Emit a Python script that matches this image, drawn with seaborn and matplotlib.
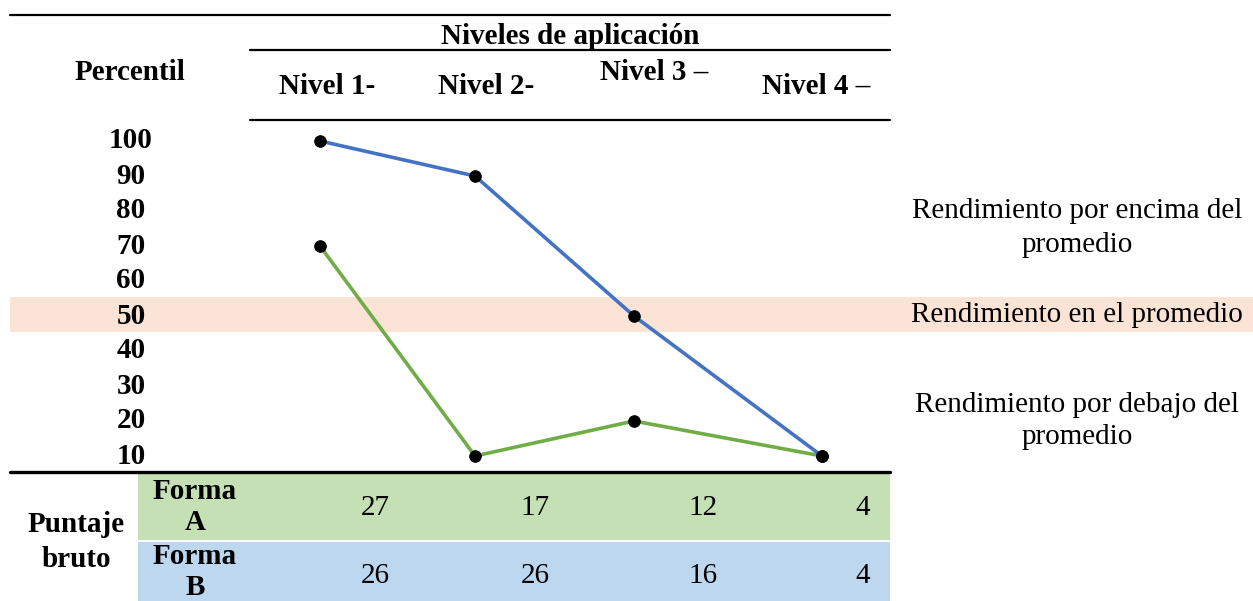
import matplotlib
matplotlib.use("Agg")
import matplotlib.pyplot as plt
import seaborn as sns
import pandas as pd
from matplotlib.lines import Line2D
from matplotlib.patches import Rectangle

# ---------------- data ----------------
levels = ["Nivel 1-", "Nivel 2-", "Nivel 3 –", "Nivel 4 –"]
percentil_ticks = [100, 90, 80, 70, 60, 50, 40, 30, 20, 10]
forma_a_percentil = [70, 10, 20, 10]   # green line
forma_b_percentil = [100, 90, 50, 10]  # blue line
forma_a_bruto = [27, 17, 12, 4]
forma_b_bruto = [26, 26, 16, 4]
band_low, band_high = 45.5, 55.5
zone_labels = ["Rendimiento por encima del\npromedio",
               "Rendimiento en el promedio",
               "Rendimiento por debajo del\npromedio"]

# ---------------- layout (pixels) ----------------
W, H = 1253, 601
col_x = [320, 475, 634, 822]          # column centres of the levels
header_x = [327, 486, 654, 816]
header_y = [87, 87, 72, 87]
num_x = [375, 535, 703, 870]
num_ha = ["center", "center", "center", "right"]
px_per_unit = 3.5
y100_px = 141

sns.set_theme(style="white")
plt.rcParams["font.family"] = ["Liberation Serif", "DejaVu Serif"]
plt.rcParams["text.color"] = "black"

fig = plt.figure(figsize=(W / 100, H / 100), dpi=100)
ax = fig.add_axes([0, 0, 1, 1])
ax.set_xlim(0, W)
ytop = 100 + y100_px / px_per_unit
ybot = 100 - (H - y100_px) / px_per_unit
ax.set_ylim(ybot, ytop)
ax.axis("off")

def fx(x):
    return x / W

def fy(y):
    return 1 - y / H

FS = 21

# orange band (average zone)
ax.axhspan(band_low, band_high, xmin=fx(10), xmax=1, color="#FBE4D5", lw=0, zorder=0)

# table lines
for y, x0, x1, lw in [(15, 10, 890, 1.6), (50, 250, 890, 1.6), (120, 250, 890, 1.6), (472, 10, 890, 2.4)]:
    fig.add_artist(Line2D([fx(x0), fx(x1)], [fy(y), fy(y)], color="black", lw=lw))

# coloured rows
fig.add_artist(Rectangle((fx(138), fy(540)), fx(890) - fx(138), fy(473) - fy(540),
                         transform=fig.transFigure, color="#C5E0B4", lw=0, zorder=0))
fig.add_artist(Rectangle((fx(138), fy(601)), fx(890) - fx(138), fy(542) - fy(601),
                         transform=fig.transFigure, color="#BDD7EE", lw=0, zorder=0))

# headers
fig.text(fx(570), fy(36), "Niveles de aplicación", ha="center", va="center", fontsize=FS, fontweight="bold")
fig.text(fx(130), fy(73), "Percentil", ha="center", va="center", fontsize=FS, fontweight="bold")
for lab, x, y in zip(levels, header_x, header_y):
    fig.text(fx(x), fy(y), lab, ha="center", va="center", fontsize=FS, fontweight="bold")

# y labels
for v in percentil_ticks:
    ax.text(131, v, str(v), ha="center", va="center", fontsize=FS, fontweight="bold")

# lines
df = pd.DataFrame({
    "x": col_x * 2,
    "p": forma_a_percentil + forma_b_percentil,
    "serie": ["Forma A"] * 4 + ["Forma B"] * 4,
})
sns.lineplot(data=df, x="x", y="p", hue="serie", palette={"Forma A": "#70AD47", "Forma B": "#4472C4"},
             lw=2.6, legend=False, ax=ax, sort=False, zorder=2)
sns.scatterplot(data=df, x="x", y="p", color="black", s=70, edgecolor="black", legend=False, ax=ax, zorder=3)
ax.set_xlabel("")
ax.set_ylabel("")

# zone labels
fig.text(fx(1077), fy(228), zone_labels[0], ha="center", va="center", fontsize=FS, linespacing=1.35)
fig.text(fx(1077), fy(315), zone_labels[1], ha="center", va="center", fontsize=FS)
fig.text(fx(1077), fy(421), zone_labels[2], ha="center", va="center", fontsize=FS, linespacing=1.35)

# bottom table
fig.text(fx(76), fy(542), "Puntaje\nbruto", ha="center", va="center", fontsize=FS, fontweight="bold", linespacing=1.35)
fig.text(fx(195), fy(507), "Forma\nA", ha="center", va="center", fontsize=FS, fontweight="bold", linespacing=1.2)
fig.text(fx(195), fy(572), "Forma\nB", ha="center", va="center", fontsize=FS, fontweight="bold", linespacing=1.15)
for vals, y in [(forma_a_bruto, 508), (forma_b_bruto, 576)]:
    for v, x, ha in zip(vals, num_x, num_ha):
        fig.text(fx(x), fy(y), str(v), ha=ha, va="center", fontsize=FS)

fig.savefig("out.png", dpi=100)
